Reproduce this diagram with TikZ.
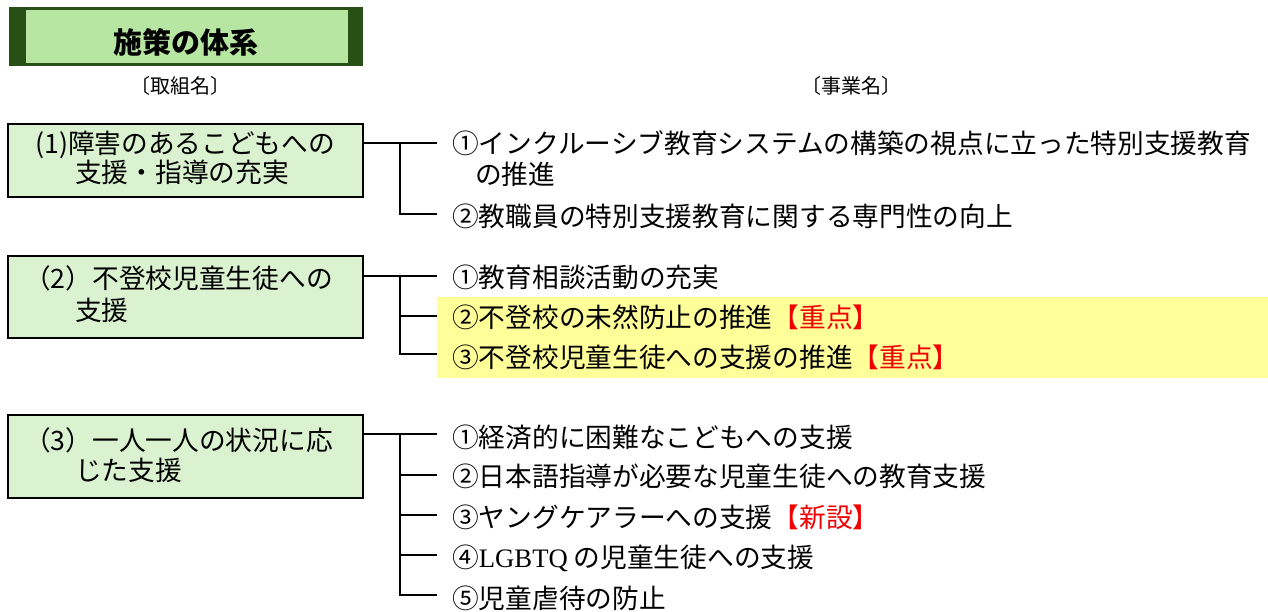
\documentclass[tikz,border=0pt]{standalone}
\usepackage{fontspec}
\setmainfont{Noto Sans CJK JP}
\newfontfamily\latinserif{Liberation Serif}
\definecolor{titledark}{RGB}{40,80,22}
\definecolor{titlelight}{RGB}{182,230,162}
\definecolor{boxfill}{RGB}{218,242,208}
\definecolor{hiyellow}{RGB}{255,255,153}
\definecolor{accent}{RGB}{240,0,0}
\begin{document}
\begin{tikzpicture}[x=1pt,y=-1pt,
  groupbox/.style={draw=black,line width=1.6pt,fill=boxfill},
  txt/.style={anchor=west,inner sep=0pt,text height=23.5pt,text depth=3.2pt,font=\fontsize{26.7}{30}\selectfont},
  hdr/.style={anchor=center,inner sep=0pt,text height=17.6pt,text depth=2.4pt,font=\fontsize{20}{22}\selectfont},
  conn/.style={line width=1.6pt,black}]
\useasboundingbox (0,0) rectangle (1268,612);
% title
\node[fill=titledark,minimum width=354pt,minimum height=59pt,inner sep=0pt,anchor=north west] (tdark) at (9,7) {};
\node[fill=titlelight,minimum width=322pt,minimum height=53pt,inner sep=0pt,anchor=north west] (tlight) at (26,10) {};
\node[anchor=center,inner sep=0pt,text height=25.5pt,text depth=3.5pt,font=\fontsize{29}{32}\selectfont\bfseries] (title) at (186,43) {施策の体系};
\node[hdr] (h1) at (180,86) {〔取組名〕};
\node[hdr] (h2) at (851,86) {〔事業名〕};
% highlight
\fill[hiyellow] (437,297) rectangle (1268,378);
% group boxes
\node[groupbox,anchor=north west,minimum width=355pt,minimum height=73pt,inner sep=0pt] (b1) at (7,123) {};
\node[groupbox,anchor=north west,minimum width=355pt,minimum height=82pt,inner sep=0pt] (b2) at (7,255) {};
\node[groupbox,anchor=north west,minimum width=355pt,minimum height=83pt,inner sep=0pt] (b3) at (7,414) {};
\node[txt] (b1a) at (35,143) {(1)障害のあるこどもへの};
\node[txt] (b1b) at (75,172) {支援・指導の充実};
\node[txt] (b2a) at (24,278) {（2）不登校児童生徒への};
\node[txt] (b2b) at (75,310) {支援};
\node[txt] (b3a) at (24,440) {（3）一人一人の状況に応};
\node[txt] (b3b) at (75,470) {じた支援};
% items
\node[txt] (i11) at (452,143) {①インクルーシブ教育システムの構築の視点に立った特別支援教育};
\node[txt] (i11b) at (475,174) {の推進};
\node[txt] (i12) at (452,216) {②教職員の特別支援教育に関する専門性の向上};
\node[txt] (i21) at (452,277) {①教育相談活動の充実};
\node[txt] (i22) at (452,317) {②不登校の未然防止の推進\textcolor{accent}{【重点】}};
\node[txt] (i23) at (452,357) {③不登校児童生徒への支援の推進\textcolor{accent}{【重点】}};
\node[txt] (i31) at (452,437) {①経済的に困難なこどもへの支援};
\node[txt] (i32) at (452,476) {②日本語指導が必要な児童生徒への教育支援};
\node[txt] (i33) at (452,517) {③ヤングケアラーへの支援\textcolor{accent}{【新設】}};
\node[txt] (i34) at (452,557) {④{\latinserif LGBTQ} の児童生徒への支援};
\node[txt] (i35) at (452,598) {⑤児童虐待の防止};
% connector end points
\coordinate (e11) at (437,143);
\coordinate (e12) at (437,214);
\coordinate (j1) at (400,143);
\coordinate (e21) at (437,276);
\coordinate (e22) at (437,316);
\coordinate (e23) at (437,354);
\coordinate (j2) at (400,276);
\coordinate (e31) at (437,434);
\coordinate (e32) at (437,475);
\coordinate (e33) at (437,515);
\coordinate (e34) at (437,555);
\coordinate (e35) at (437,595);
\coordinate (j3) at (400,434);
% connectors
\draw[conn] (b1.east |- e11) -- (e11);
\draw[conn] (j1) |- (e12);
\draw[conn] (b2.east |- e21) -- (e21);
\draw[conn] (j2) |- (e23);
\draw[conn] (j2 |- e22) -- (e22);
\draw[conn] (b3.east |- e31) -- (e31);
\draw[conn] (j3) |- (e35);
\draw[conn] (j3 |- e32) -- (e32);
\draw[conn] (j3 |- e33) -- (e33);
\draw[conn] (j3 |- e34) -- (e34);
\end{tikzpicture}
\end{document}
